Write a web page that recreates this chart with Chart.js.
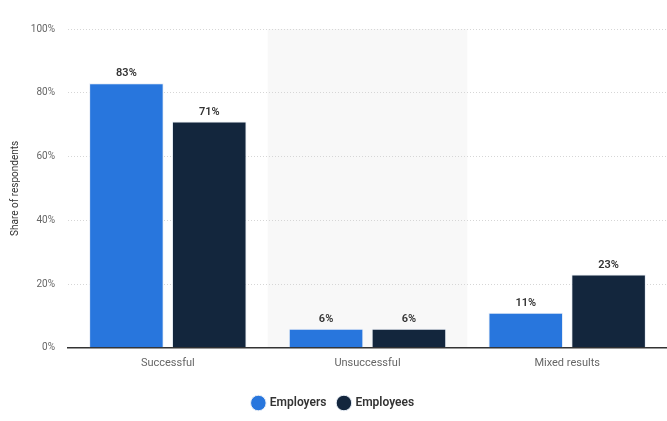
<!DOCTYPE html>
<html>
<head>
<meta charset="utf-8">
<script src="https://cdn.jsdelivr.net/npm/chart.js@4/dist/chart.umd.min.js"></script>
<style>
  html, body { margin: 0; padding: 0; background: #fff; }
  #wrap { width: 667px; height: 421px; }
</style>
</head>
<body>
<div id="wrap"><canvas id="outcomeChart"></canvas></div>
<script>
const categories = ["Successful", "Unsuccessful", "Mixed results"];
const employers = [83, 6, 11];
const employees = [71, 6, 23];
const yTicks = [0, 20, 40, 60, 80, 100];

// light grey band behind every other category
const bandPlugin = {
  id: "bands",
  beforeDraw(chart) {
    const { ctx, chartArea, scales } = chart;
    const x = scales.x;
    const step = x.getPixelForValue(1) - x.getPixelForValue(0);
    ctx.save();
    ctx.fillStyle = "#f8f8f8";
    for (let i = 1; i < categories.length; i += 2) {
      const c = x.getPixelForValue(i);
      ctx.fillRect(c - step / 2, chartArea.top, step, chartArea.bottom - chartArea.top);
    }
    ctx.restore();
  },
};

// value labels on top of the bars
const labelPlugin = {
  id: "valueLabels",
  afterDatasetsDraw(chart) {
    const { ctx } = chart;
    ctx.save();
    ctx.font = "600 11px Roboto";
    ctx.fillStyle = "#333";
    ctx.textAlign = "center";
    ctx.textBaseline = "bottom";
    chart.data.datasets.forEach((ds, i) => {
      chart.getDatasetMeta(i).data.forEach((bar, j) => {
        ctx.fillText(ds.data[j] + "%", bar.x, bar.y - 4);
      });
    });
    ctx.restore();
  },
};

const outcomeChart = document.getElementById("outcomeChart").getContext("2d");
new Chart(outcomeChart, {
  type: "bar",
  data: {
    labels: categories,
    datasets: [
      {
        label: "Employers",
        data: employers,
        backgroundColor: "#2876dd",
        borderColor: "#e8eef6",
        borderWidth: 1,
        barPercentage: 0.9,
        categoryPercentage: 0.83,
      },
      {
        label: "Employees",
        data: employees,
        backgroundColor: "#13263d",
        borderColor: "#e8eef6",
        borderWidth: 1,
        barPercentage: 0.9,
        categoryPercentage: 0.83,
      },
    ],
  },
  options: {
    responsive: true,
    maintainAspectRatio: false,
    animation: false,
    layout: { padding: { top: 29, right: 0, left: 0, bottom: 2 } },
    plugins: {
      legend: {
        position: "bottom",
        labels: {
          usePointStyle: true,
          pointStyle: "circle",
          boxWidth: 11,
          boxHeight: 11,
          padding: 12,
          color: "#333",
          font: { family: "Roboto", size: 12, weight: "600" },
        },
      },
      tooltip: { enabled: false },
    },
    scales: {
      x: {
        grid: { display: false },
        border: { display: true, color: "#333", width: 1.5 },
        ticks: { color: "#666", padding: 1, font: { family: "Roboto", size: 11 } },
        afterFit(axis) {
          axis.height += 14;
        },
      },
      y: {
        min: 0,
        max: 100,
        afterBuildTicks(axis) {
          axis.ticks = yTicks.map((v) => ({ value: v }));
        },
        afterFit(axis) {
          axis.width = 68;
        },
        grid: { color: "#d6d6d6", drawTicks: false },
        border: { display: false, dash: [1, 2] },
        ticks: {
          color: "#666",
          padding: 13,
          font: { family: "Roboto", size: 10 },
          callback: (v) => v + "%",
        },
        title: {
          display: true,
          text: "Share of respondents",
          color: "#333",
          padding: { top: 9, bottom: 0 },
          font: { family: "Roboto", size: 10 },
        },
      },
    },
  },
  plugins: [bandPlugin, labelPlugin],
});
</script>
</body>
</html>
